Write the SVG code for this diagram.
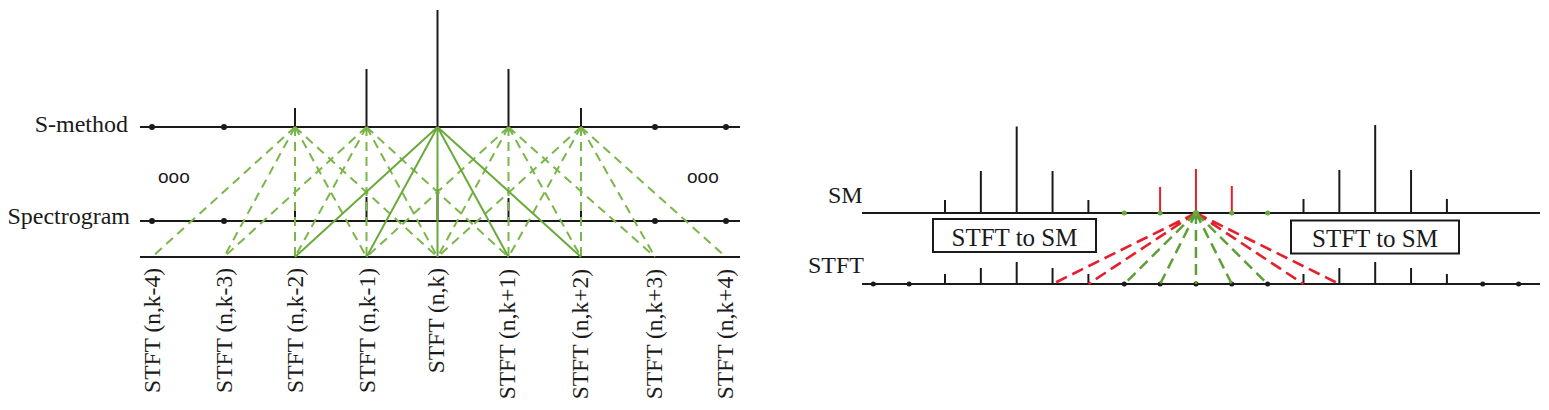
<svg xmlns="http://www.w3.org/2000/svg" width="1549" height="410" viewBox="0 0 1549 410">
<defs>
<style>
.ax{stroke:#1a1a1a;stroke-width:2;fill:none}
.tk{stroke:#1a1a1a;stroke-width:2}
.rt{stroke:#e3202b;stroke-width:2}
.dot{fill:#1a1a1a}
.gdot{fill:#6aaa3a}
.gs{stroke:#6aaa3a;stroke-width:2;fill:none}
.gd{stroke:#7ab648;stroke-width:2;fill:none;stroke-dasharray:9 6}
.gd2{stroke:#5e9f35;stroke-width:2.5;fill:none;stroke-dasharray:11 6}
.rd{stroke:#e3202b;stroke-width:2.6;fill:none;stroke-dasharray:12 6}
.lbl{font-family:"Liberation Serif",serif;font-size:24px;fill:#1a1a1a}
.vl{font-family:"Liberation Serif",serif;font-size:23.5px;fill:#1a1a1a;text-anchor:end}
.oo{font-family:"Liberation Sans",sans-serif;font-size:19px;fill:#1a1a1a}
.box{fill:#fff;stroke:#1a1a1a;stroke-width:2}
.bt{font-family:"Liberation Serif",serif;font-size:25px;fill:#1a1a1a;text-anchor:middle}
</style>
</defs>

<!-- LEFT DIAGRAM -->
<g id="left-axes">
<line class="ax" x1="140" y1="127" x2="740" y2="127"/>
<line class="ax" x1="140" y1="221" x2="740" y2="221"/>
<line class="ax" x1="140" y1="257" x2="740" y2="257"/>
</g>
<g id="smethod-values">
<line class="tk" x1="295" y1="108" x2="295" y2="127"/>
<line class="tk" x1="366.5" y1="69" x2="366.5" y2="127"/>
<line class="tk" x1="437.5" y1="10" x2="437.5" y2="127"/>
<line class="tk" x1="508.5" y1="69" x2="508.5" y2="127"/>
<line class="tk" x1="581" y1="108" x2="581" y2="127"/>
<circle class="dot" cx="152" cy="127" r="3"/>
<circle class="dot" cx="224" cy="127" r="3"/>
<circle class="dot" cx="655" cy="127" r="3"/>
<circle class="dot" cx="726" cy="127" r="3"/>
</g>
<g id="spectrogram-values">
<line class="tk" x1="295" y1="203" x2="295" y2="221"/>
<line class="tk" x1="366.5" y1="197" x2="366.5" y2="221"/>
<line class="tk" x1="437.5" y1="189" x2="437.5" y2="221"/>
<line class="tk" x1="508.5" y1="198" x2="508.5" y2="221"/>
<line class="tk" x1="581" y1="203" x2="581" y2="221"/>
<circle class="dot" cx="152" cy="221" r="3"/>
<circle class="dot" cx="224" cy="221" r="3"/>
<circle class="dot" cx="655" cy="221" r="3"/>
<circle class="dot" cx="726" cy="221" r="3"/>
</g>
<g id="left-connectors">
<path class="gd" d="M295 127L152 257M295 127L224 257M295 127L295 257M295 127L366.5 257M295 127L437.5 257"/>
<path class="gd" d="M366.5 127L224 257M366.5 127L295 257M366.5 127L366.5 257M366.5 127L437.5 257M366.5 127L508.5 257"/>
<path class="gd" d="M508.5 127L366.5 257M508.5 127L437.5 257M508.5 127L508.5 257M508.5 127L581 257M508.5 127L655 257"/>
<path class="gd" d="M581 127L437.5 257M581 127L508.5 257M581 127L581 257M581 127L655 257M581 127L726 257"/>
<path class="gs" d="M437.5 127L295 257M437.5 127L366.5 257M437.5 127L437.5 257M437.5 127L508.5 257M437.5 127L581 257"/>
</g>
<g id="left-labels">
<text class="lbl" x="128" y="132" text-anchor="end">S-method</text>
<text class="lbl" x="130" y="224" text-anchor="end">Spectrogram</text>
<text class="oo" x="158" y="183">ooo</text>
<text class="oo" x="687" y="183">ooo</text>
</g>
<g id="stft-labels">
<text class="vl" transform="translate(160,268) rotate(-90)">STFT (n,k-4)</text>
<text class="vl" transform="translate(232,268) rotate(-90)">STFT (n,k-3)</text>
<text class="vl" transform="translate(303,268) rotate(-90)">STFT (n,k-2)</text>
<text class="vl" transform="translate(374.5,268) rotate(-90)">STFT (n,k-1)</text>
<text class="vl" transform="translate(444,268) rotate(-90)">STFT (n,k)</text>
<text class="vl" transform="translate(515,269) rotate(-90)">STFT (n,k+1)</text>
<text class="vl" transform="translate(588,269) rotate(-90)">STFT (n,k+2)</text>
<text class="vl" transform="translate(662,269) rotate(-90)">STFT (n,k+3)</text>
<text class="vl" transform="translate(733,269) rotate(-90)">STFT (n,k+4)</text>
</g>

<!-- RIGHT DIAGRAM -->
<g id="right-axes">
<line class="ax" x1="862" y1="213" x2="1540" y2="213"/>
<line class="ax" x1="862" y1="284" x2="1540" y2="284"/>
</g>
<g id="sm-values">
<line class="tk" x1="945" y1="200" x2="945" y2="213"/>
<line class="tk" x1="980.85" y1="171" x2="980.85" y2="213"/>
<line class="tk" x1="1016.7" y1="126.5" x2="1016.7" y2="213"/>
<line class="tk" x1="1052.55" y1="171" x2="1052.55" y2="213"/>
<line class="tk" x1="1088.4" y1="200" x2="1088.4" y2="213"/>
<line class="tk" x1="1303.5" y1="199" x2="1303.5" y2="213"/>
<line class="tk" x1="1339.35" y1="170" x2="1339.35" y2="213"/>
<line class="tk" x1="1375.2" y1="125" x2="1375.2" y2="213"/>
<line class="tk" x1="1411.05" y1="170" x2="1411.05" y2="213"/>
<line class="tk" x1="1446.9" y1="199" x2="1446.9" y2="213"/>
<line class="rt" x1="1160.1" y1="187" x2="1160.1" y2="213"/>
<line class="rt" x1="1195.95" y1="169" x2="1195.95" y2="213"/>
<line class="rt" x1="1231.8" y1="186" x2="1231.8" y2="213"/>
<circle class="gdot" cx="1124.25" cy="213" r="2.5"/>
<circle class="gdot" cx="1160.1" cy="213" r="2.5"/>
<circle class="gdot" cx="1231.8" cy="213" r="2.5"/>
<circle class="gdot" cx="1267.65" cy="213" r="2.5"/>
</g>
<g id="stft-values">
<line class="tk" x1="945" y1="274" x2="945" y2="284"/>
<line class="tk" x1="980.85" y1="268" x2="980.85" y2="284"/>
<line class="tk" x1="1016.7" y1="262" x2="1016.7" y2="284"/>
<line class="tk" x1="1052.55" y1="268" x2="1052.55" y2="284"/>
<line class="tk" x1="1088.4" y1="274" x2="1088.4" y2="284"/>
<line class="tk" x1="1303.5" y1="274" x2="1303.5" y2="284"/>
<line class="tk" x1="1339.35" y1="268" x2="1339.35" y2="284"/>
<line class="tk" x1="1375.2" y1="262" x2="1375.2" y2="284"/>
<line class="tk" x1="1411.05" y1="268" x2="1411.05" y2="284"/>
<line class="tk" x1="1446.9" y1="274" x2="1446.9" y2="284"/>
<circle class="dot" cx="873.3" cy="284" r="2.5"/>
<circle class="dot" cx="909.15" cy="284" r="2.5"/>
<circle class="dot" cx="1124.25" cy="284" r="2.5"/>
<circle class="dot" cx="1160.1" cy="284" r="2.5"/>
<circle class="dot" cx="1195.95" cy="284" r="2.5"/>
<circle class="dot" cx="1231.8" cy="284" r="2.5"/>
<circle class="dot" cx="1267.65" cy="284" r="2.5"/>
<circle class="dot" cx="1482.75" cy="284" r="2.5"/>
<circle class="dot" cx="1518.6" cy="284" r="2.5"/>
</g>
<g id="right-connectors">
<path class="rd" d="M1195.95 213L1052.55 284M1195.95 213L1088.4 284M1195.95 213L1303.5 284M1195.95 213L1339.35 284"/>
<path class="gd2" d="M1195.95 213L1124.25 284M1195.95 213L1160.1 284M1195.95 213L1195.95 284M1195.95 213L1231.8 284M1195.95 213L1267.65 284"/>
<circle class="gdot" cx="1195.95" cy="213" r="3"/>
</g>
<g id="box-left">
<rect class="box" x="933" y="219" width="163" height="33"/>
<text class="bt" x="1014.5" y="245.5">STFT to SM</text>
</g>
<g id="box-right">
<rect class="box" x="1291" y="220.5" width="168" height="33"/>
<text class="bt" x="1375" y="247">STFT to SM</text>
</g>
<g id="right-labels">
<text class="lbl" x="828" y="203">SM</text>
<text class="lbl" x="808" y="273">STFT</text>
</g>
</svg>
